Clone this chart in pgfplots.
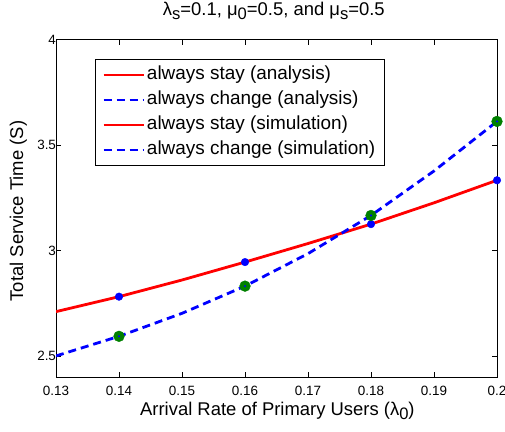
\documentclass[border=0pt]{standalone}
\usepackage{pgfplots}
\pgfplotsset{compat=1.18}
\usepackage{graphicx}
\usepackage{fontspec}
\setmainfont{Liberation Sans}
\definecolor{mgreen}{RGB}{0,128,0}
% MATLAB-style subscript: nearly full size, lowered
\newcommand\sub[1]{\raisebox{-0.5ex}{\scalebox{0.9}{#1}}}
\begin{document}
\begin{tikzpicture}
\begin{axis}[
    name=ax,
    width=441bp, height=337.4bp, scale only axis,
    xmin=0.13, xmax=0.2, ymin=2.4, ymax=4,
    xtick={0.13,0.14,0.15,0.16,0.17,0.18,0.19,0.2},
    ytick={2.5,3,3.5,4},
    xticklabels={0.13,0.14,0.15,0.16,0.17,0.18,0.19,0.2},
    tick align=inside, tick pos=both,
    major tick length=5bp,
    axis line style={line width=0.9bp},
    tick style={black, line width=0.6bp},
    /pgf/number format/assume math mode=true,
    tick label style={font=\fontsize{13.5}{15}\selectfont},
    xticklabel style={anchor=base, yshift=-18bp},
    yticklabel style={xshift=3.5bp},
    xlabel={Arrival Rate of Primary Users (λ\sub{0})},
    ylabel={Total Service Time (S)},
    label style={font=\fontsize{18.5}{21}\selectfont},
    xlabel style={at={(axis description cs:0.502,0)}, anchor=base, yshift=-38bp},
    ylabel style={at={(axis description cs:-0.0748,0.492)}, anchor=base, rotate=0},
    title={λ\sub{s}=0.1, μ\sub{0}=0.5, and μ\sub{s}=0.5},
    title style={font=\fontsize{18.5}{21}\selectfont, at={(axis description cs:0.494,1)}, anchor=base, yshift=18.5bp},
    legend cell align=left,
    legend style={at={(rel axis cs:0.0884,0.9416)}, anchor=north west,
        font=\fontsize{19}{22}\selectfont, draw=black,
        row sep=0bp, inner xsep=7bp, inner ysep=3bp,
        nodes={text height=14bp, text depth=5bp, inner ysep=3bp, inner xsep=2bp}},
    legend image code/.code={\draw[#1, line width=2.8bp] (0bp,0bp) -- (40bp,0bp);},
]
% analysis curves
\addplot[red, line width=2.8bp] coordinates {
    (0.13,2.710) (0.14,2.781) (0.15,2.860) (0.16,2.945)
    (0.17,3.033) (0.18,3.125) (0.19,3.226) (0.20,3.333)
};
\addlegendentry{always stay (analysis)}
\addplot[blue, line width=2.8bp, dash pattern=on 8bp off 5bp] coordinates {
    (0.13,2.500) (0.14,2.593) (0.15,2.702) (0.16,2.831)
    (0.17,2.985) (0.18,3.166) (0.19,3.377) (0.20,3.612)
};
\addlegendentry{always change (analysis)}
\addlegendimage{red}
\addlegendentry{always stay (simulation)}
\addlegendimage{blue, dash pattern=on 8bp off 5bp}
\addlegendentry{always change (simulation)}
% simulation points
\addplot[only marks, mark=*, mark size=3.8bp, blue, forget plot] coordinates {
    (0.14,2.781) (0.16,2.945) (0.18,3.125) (0.20,3.333)
};
\addplot[only marks, mark=*, mark size=5.4bp, mgreen, forget plot] coordinates {
    (0.14,2.593) (0.16,2.831) (0.18,3.166) (0.20,3.612)
};
\addplot[only marks, mark=*, mark size=0.8bp, blue, forget plot] coordinates {
    (0.14,2.593) (0.16,2.831) (0.18,3.166) (0.20,3.612)
};
\end{axis}
\pgfresetboundingbox
\path ([xshift=-56bp,yshift=-54bp]ax.south west) rectangle ([xshift=8bp,yshift=39.6bp]ax.north east);
\end{tikzpicture}
\end{document}
